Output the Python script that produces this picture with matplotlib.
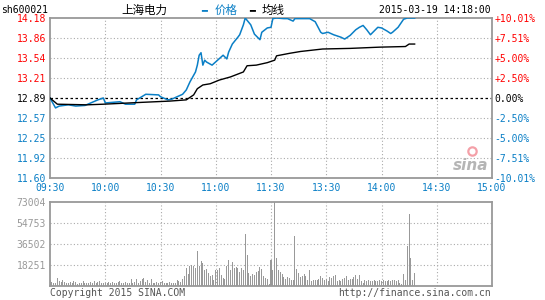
import matplotlib
matplotlib.use('Agg')
import matplotlib.pyplot as plt

# 分时数据 (минуты от 09:30)
price_t = [0, 3, 5, 10, 14, 19, 26, 29, 30, 38, 41, 46, 47, 52, 59, 60, 64, 66, 69, 72,
           74, 76, 79, 80, 81, 82, 83, 84, 85, 88, 91, 94, 96, 97, 99, 102, 103, 105, 106, 109,
           111, 114, 115, 118, 120, 121, 123, 127, 129, 132, 133, 141, 144, 147, 148, 151, 154, 158, 160, 163,
           166, 168, 170, 172, 174, 178, 180, 183, 185, 186, 189, 192, 194, 198]
price = [12.89, 12.73, 12.76, 12.78, 12.76, 12.77, 12.86, 12.89, 12.81, 12.83, 12.79, 12.79, 12.86, 12.95, 12.94, 12.91, 12.86, 12.87, 12.91, 12.95,
         13.02, 13.15, 13.31, 13.42, 13.58, 13.62, 13.42, 13.50, 13.47, 13.42, 13.50, 13.58, 13.52, 13.63, 13.76, 13.87, 13.91, 14.07, 14.18, 14.07,
         13.92, 13.83, 13.95, 14.02, 14.03, 14.17, 14.18, 14.17, 14.17, 14.13, 14.17, 14.17, 14.12, 13.95, 13.93, 13.95, 13.91, 13.87, 13.84, 13.90,
         13.99, 14.03, 14.06, 13.99, 13.91, 14.03, 14.02, 13.97, 13.93, 13.95, 14.03, 14.16, 14.18, 14.18]

avg_t = [0, 4, 20, 29, 50, 65, 74, 78, 80, 83, 87, 92, 98, 105, 107, 112, 118, 122, 123, 130,
         136, 148, 163, 179, 193, 195, 198]
avg = [12.89, 12.79, 12.78, 12.79, 12.82, 12.84, 12.86, 12.94, 13.04, 13.10, 13.12, 13.18, 13.23, 13.31, 13.41, 13.42, 13.46, 13.50, 13.57, 13.61,
       13.64, 13.68, 13.69, 13.71, 13.72, 13.76, 13.76]

volume = [5200, 3500, 2900, 2900, 7300, 4400, 3500, 5200, 3500, 2900,
          2300, 3500, 2300, 4400, 3500, 1500, 2300, 2900, 4400, 2300,
          2900, 2900, 3500, 2900, 4400, 2300, 3500, 4400, 2300, 2900,
          2900, 2300, 3500, 2900, 3500, 2300, 2900, 3500, 4400, 2900,
          2300, 3500, 2300, 2900, 5800, 2900, 3500, 6400, 2900, 4400,
          5800, 7300, 3500, 5200, 2900, 6400, 2300, 2900, 3500, 2900,
          3500, 4400, 2300, 2900, 2300, 3500, 2300, 2900, 2300, 5200, 4400, 3500, 5800, 8700,
          16000, 10200, 17400, 18000, 17400, 16000, 30500, 17400, 21800, 20300, 13900, 14500, 11200, 8400, 9800, 5600,
          13500, 14100, 15500, 9800, 7000, 6500, 17400, 23000, 14100, 21200, 15300, 16200, 15300, 12300, 15300,
          14100, 45600, 27300, 11200, 8800, 10300, 9400, 11800, 13200, 16200, 14700, 8800, 7300, 6500, 1500,
          22500, 14000, 73004, 24700, 14000, 11800, 10700, 7900, 6200, 7900, 7000, 5100, 5100, 43600, 14600,
          11200, 7900, 8400, 10700, 8400, 5100, 13500, 4200, 5600, 5100, 5100, 6200, 8400, 7000, 5600,
          6200, 4200, 7900, 7000, 8400, 9800, 4200, 5600, 4200, 6200, 7000, 8400, 5100, 6200, 6200,
          7900, 9800, 6200, 9800, 4200, 2800, 5100, 4200, 5100, 4200, 4200, 5100, 4200, 4200, 5600,
          4200, 5100, 4200, 4200, 5100, 4200, 5100, 5600, 4200, 5600, 2800, 1400, 10700, 5600, 35100,
          62400, 24700, 5600, 11200]

price_ticks = [11.60, 11.92, 12.25, 12.57, 12.89, 13.21, 13.54, 13.86, 14.18]
pct_labels = ['-10.01%', '-7.51%', '-5.00%', '-2.50%', '0.00%', '+2.50%', '+5.00%', '+7.51%', '+10.01%']
time_ticks = [0, 30, 60, 90, 120, 150, 180, 210, 240]
time_labels = ['09:30', '10:00', '10:30', '11:00', '11:30', '13:30', '14:00', '14:30', '15:00']
vol_ticks = [18251, 36502, 54753, 73004]
prev_close = 12.89

W, H = 545, 300
BLUE = '#0a7fc6'
RED = '#ff0000'
GREY = '#999999'
mono = 'DejaVu Sans Mono'
cjk = ['Noto Sans CJK SC', 'DejaVu Sans']

fig = plt.figure(figsize=(W / 100, H / 100), dpi=100)

def fx(px):
    return px / W

def fy(py):
    return 1 - py / H

ax = fig.add_axes([fx(50), fy(178), fx(442), 160 / H])
axv = fig.add_axes([fx(50), fy(286), fx(442), 84 / H])

for a in (ax, axv):
    a.set_xlim(0, 240)
    for s in a.spines.values():
        s.set_color(GREY)
        s.set_linewidth(1.3)
    a.tick_params(length=0)
    for t in time_ticks[1:-1]:
        a.axvline(t, color='#aaaaaa', lw=0.8, ls=(0, (1, 2)), zorder=0)

ax.set_ylim(11.60, 14.18)
for p in price_ticks[1:-1]:
    if p != prev_close:
        ax.axhline(p, color='#aaaaaa', lw=0.8, ls=(0, (1, 2)), zorder=0)
ax.axhline(prev_close, color='black', lw=0.9, ls=(0, (2, 2)), zorder=1)

ax.plot(price_t, price, color=BLUE, lw=1.1, zorder=3, clip_on=True)
ax.plot(avg_t, avg, color='black', lw=1.0, zorder=3)

ax.set_xticks(time_ticks)
ax.set_xticklabels(time_labels, family=mono, fontsize=7, color=BLUE)
ax.tick_params(axis='x', pad=3.5)
ax.set_yticks(price_ticks)
ax.set_yticklabels(['%.2f' % p for p in price_ticks], family=mono, fontsize=7)
for lbl, p in zip(ax.get_yticklabels(), price_ticks):
    lbl.set_color(RED if p > prev_close else ('black' if p == prev_close else BLUE))
ax.tick_params(axis='y', pad=3)

axr = ax.twinx()
axr.set_ylim(11.60, 14.18)
axr.set_yticks(price_ticks)
axr.set_yticklabels(pct_labels, family=mono, fontsize=7)
for lbl, p in zip(axr.get_yticklabels(), price_ticks):
    lbl.set_color(RED if p > prev_close else ('black' if p == prev_close else BLUE))
axr.tick_params(length=0, pad=2)
for s in axr.spines.values():
    s.set_visible(False)

# sina watermark
ax.text(238, 11.68, 'sina', family='DejaVu Sans', style='italic', weight='bold',
        fontsize=11, color='#b5b5b5', ha='right', va='bottom', zorder=2)
ax.plot([229], [12.03], 'o', ms=6, mfc='none', mec='#f4a0a8', mew=1.6, zorder=2)

axv.set_ylim(0, 73004)
for v in vol_ticks[:-1]:
    axv.axhline(v, color='#aaaaaa', lw=0.8, ls=(0, (1, 2)), zorder=0)
axv.bar(range(len(volume)), volume, width=0.55, color=GREY, zorder=2)
axv.set_xticks([])
axv.set_yticks(vol_ticks)
axv.set_yticklabels([str(v) for v in vol_ticks], family=mono, fontsize=7, color=GREY)
axv.tick_params(axis='y', pad=3)

# header
fig.text(fx(1), fy(10), 'sh600021', family=mono, fontsize=7, va='center')
fig.text(fx(121), fy(10), '上海电力', family=cjk, fontsize=8.3, va='center')
fig.text(fx(201), fy(10), '━', family='DejaVu Sans', fontsize=7, color=BLUE, va='center')
fig.text(fx(215), fy(10), '价格', family=cjk, fontsize=8.3, color=BLUE, va='center')
fig.text(fx(249), fy(10), '━', family='DejaVu Sans', fontsize=7, color='black', va='center')
fig.text(fx(262), fy(10), '均线', family=cjk, fontsize=8.3, color='black', va='center')
fig.text(fx(491), fy(10), '2015-03-19 14:18:00', family=mono, fontsize=7, ha='right', va='center')

# footer
fig.text(fx(50), fy(293), 'Copyright 2015 SINA.COM', family=mono, fontsize=7, color='#555555', va='center')
fig.text(fx(491), fy(293), 'http://finance.sina.com.cn', family=mono, fontsize=7, color='#555555',
         ha='right', va='center')

fig.savefig('out.png', dpi=100)
